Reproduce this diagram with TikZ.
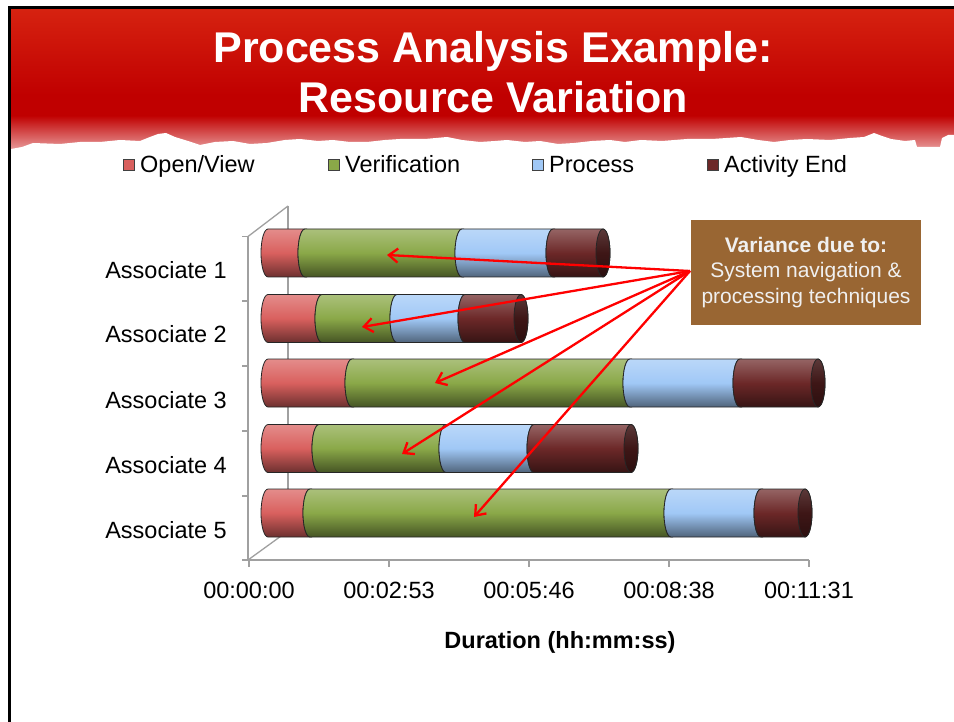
\documentclass[tikz,border=0pt]{standalone}
\usepackage{fontspec}
\setmainfont{Liberation Sans}
\usetikzlibrary{arrows.meta}
\definecolor{cred}{RGB}{217,96,94}
\definecolor{cgreen}{RGB}{138,168,72}
\definecolor{cblue}{RGB}{160,200,246}
\definecolor{cdark}{RGB}{108,40,40}
\definecolor{ccap}{RGB}{62,22,22}
\definecolor{hdrtop}{RGB}{214,34,16}
\definecolor{hdrmid}{RGB}{192,0,0}
\definecolor{hdrfade}{RGB}{236,170,170}
\definecolor{boxbrown}{RGB}{153,102,51}
\definecolor{axisgray}{RGB}{160,160,160}
\newcommand\cylseg[4]{%
  \path[cylstyle, top color=#4!72!white, bottom color=#4!50!black, middle color=#4]
  (#2,#1-24) -- (#3,#1-24) arc[start angle=-90,end angle=-270,x radius=7,y radius=24]
  -- (#2,#1+24) arc[start angle=90,end angle=270,x radius=7,y radius=24] -- cycle;}
\newcommand\cylend[4]{%
  \path[cylstyle, top color=#4!72!white, bottom color=#4!50!black, middle color=#4]
  (#2,#1-24) -- (#3,#1-24) arc[start angle=-90,end angle=90,x radius=7,y radius=24]
  -- (#2,#1+24) arc[start angle=90,end angle=270,x radius=7,y radius=24] -- cycle;
  \path[cylstyle, top color=ccap!85!white, bottom color=ccap!70!black, middle color=ccap]
  (#3,#1) ellipse[x radius=7,y radius=24];}
\newcommand\cylbar[6]{%
  \cylseg{#1}{#2+7}{#3+5}{cred}%
  \cylseg{#1}{#3+5}{#4+5}{cgreen}%
  \cylseg{#1}{#4+5}{#5+5}{cblue}%
  \cylend{#1}{#5+5}{#6-7}{cdark}}
\begin{document}
\begin{tikzpicture}[x=1pt,y=-1pt,
  cylstyle/.style={draw=black!85, line width=0.8},
  titletext/.style={font=\fontsize{43}{50}\selectfont\bfseries, text=white, inner sep=0},
  legsq/.style={draw=black!75, line width=0.6, minimum size=11.5, inner sep=0},
  labtext/.style={font=\fontsize{23.5}{28}\selectfont, text=black, inner sep=0},
  axisline/.style={draw=axisgray, line width=1.3},
  redarrow/.style={draw=red, line width=2.3, -{Straight Barb[length=9pt,width=14pt]}},
  notebox/.style={fill=boxbrown, text=white!94!black, minimum width=230, minimum height=105,
     inner sep=0, align=center, font=\fontsize{21}{25.5}\selectfont}
]
\useasboundingbox (0,0) rectangle (954,722);
\fill[white] (0,0) rectangle (954,722);
% header
\shade[top color=hdrtop, bottom color=hdrmid] (11,9) rectangle (954,95);
\fill[hdrmid] (11,94.5) rectangle (954,116);
\shade[top color=hdrmid, bottom color=hdrfade] (11,115.5) rectangle (954,153);
\fill[white] (11,165) -- (11,149) -- (22,147) -- (33,143) -- (60,144) -- (80,142) -- (100,142)
  -- (120,140) -- (140,141) -- (150,137) -- (158,134) -- (166,133) -- (175,137) -- (188,141)
  -- (200,145) -- (215,142) -- (233,141) -- (250,144) -- (267,143) -- (285,140) -- (300,139)
  -- (318,141) -- (333,140) -- (350,142) -- (367,142) -- (385,140) -- (400,139) -- (425,139)
  -- (447,137) -- (462,140) -- (480,142) -- (495,141) -- (507,140) -- (525,142) -- (540,141)
  -- (558,144) -- (574,143) -- (592,141) -- (610,140) -- (625,142) -- (641,140) -- (662,141)
  -- (687,139) -- (712,139) -- (741,137) -- (758,140) -- (774,142) -- (790,140) -- (807,139)
  -- (830,140) -- (850,138) -- (864,137) -- (874,133) -- (882,136) -- (891,139) -- (905,141)
  -- (915,140) -- (917,147) -- (940,147) -- (942,138) -- (948,135) -- (954,135) -- (954,165) -- cycle;
% frame
\draw[black, line width=3] (9.5,722) -- (9.5,8) -- (954,8);
% title
\node[titletext, anchor=base] (title1) at (493,62.5) {Process Analysis Example:};
\node[titletext, anchor=base] (title2) at (493.5,113) {Resource Variation};
% legend
\node[legsq, fill=cred] (sq1) at (129,165) {};
\node[labtext, anchor=base west] (lg1) at (140,173) {Open/View};
\node[legsq, fill=cgreen] (sq2) at (334,165) {};
\node[labtext, anchor=base west] (lg2) at (345,173) {Verification};
\node[legsq, fill=cblue] (sq3) at (538,165) {};
\node[labtext, anchor=base west] (lg3) at (549,173) {Process};
\node[legsq, fill=cdark] (sq4) at (713,165) {};
\node[labtext, anchor=base west] (lg4) at (724,173) {Activity End};
% axes
\draw[axisline] (288,206) -- (288,531);
\draw[axisline] (248,236.5) -- (288,206);
\draw[axisline] (248,560) -- (288,531);
\draw[axisline] (248,236.5) -- (248,560) -- (809,560);
\foreach \yy in {236.5,301,366,431,496,560} \draw[axisline] (242,\yy) -- (248,\yy);
\foreach \xx in {249,389,529,669,809} \draw[axisline] (\xx,560) -- (\xx,567);
% bars
\cylbar{253}{261}{300}{457}{548}{610}
\cylbar{318.5}{261}{317}{392}{460}{528}
\cylbar{383}{261}{347}{625}{735}{825}
\cylbar{448.5}{261}{314}{441}{529}{638}
\cylbar{513}{261}{305}{666}{756}{812}
% category labels
\node[labtext, anchor=base east] (a1) at (227,278.5) {Associate 1};
\node[labtext, anchor=base east] (a2) at (227,343) {Associate 2};
\node[labtext, anchor=base east] (a3) at (227,408) {Associate 3};
\node[labtext, anchor=base east] (a4) at (227,473) {Associate 4};
\node[labtext, anchor=base east] (a5) at (227,538) {Associate 5};
% tick labels
\node[labtext, anchor=base] (x0) at (249,598.5) {00:00:00};
\node[labtext, anchor=base] (x1) at (389,598.5) {00:02:53};
\node[labtext, anchor=base] (x2) at (529,598.5) {00:05:46};
\node[labtext, anchor=base] (x3) at (669,598.5) {00:08:38};
\node[labtext, anchor=base] (x4) at (809,598.5) {00:11:31};
\node[labtext, anchor=base, font=\fontsize{23.5}{28}\selectfont\bfseries] (xt) at (560,648.5) {Duration (hh:mm:ss)};
% note box and arrows
\node[notebox] (box) at (806,272.5) {\textbf{Variance due to:}\\System navigation \&\\processing techniques};
\coordinate (src) at (690,271);
\coordinate (p1) at (387,255);
\coordinate (p2) at (362,327);
\coordinate (p3) at (435,383);
\coordinate (p4) at (402,454);
\coordinate (p5) at (474,517);
\foreach \p in {p1,p2,p3,p4,p5} \draw[redarrow] (src) -- (\p);
\end{tikzpicture}
\end{document}
